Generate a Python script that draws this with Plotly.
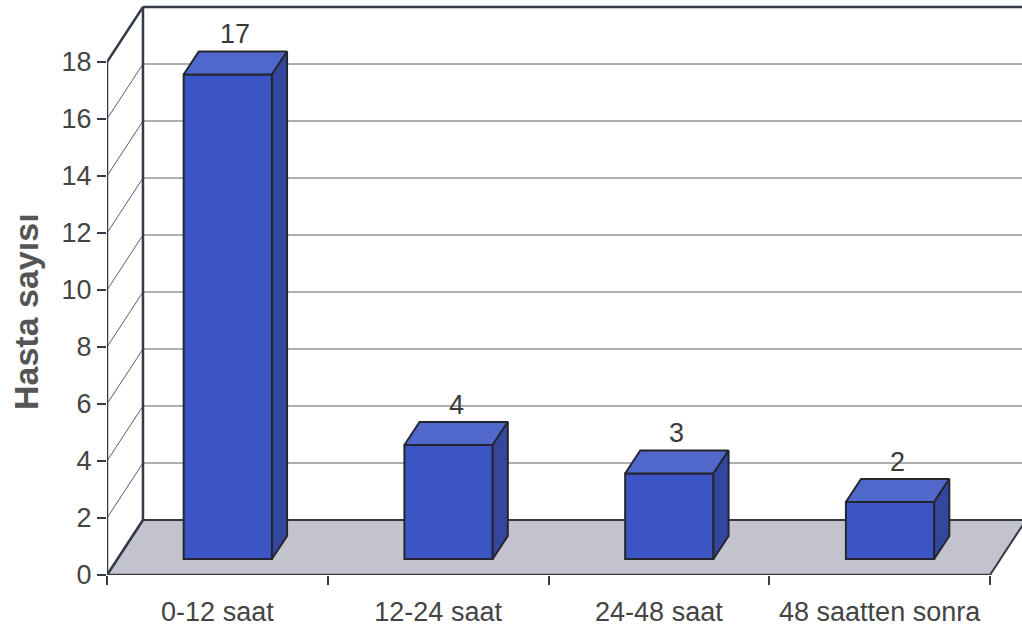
import plotly.graph_objects as go

# ---- data ----
categories = ["0-12 saat", "12-24 saat", "24-48 saat", "48 saatten sonra"]
values = [17, 4, 3, 2]
y_ticks = [0, 2, 4, 6, 8, 10, 12, 14, 16, 18]
y_title = "Hasta sayısı"

# ---- 3D geometry (in data units) ----
DX = 0.163      # depth offset along x (category units)
DY = 1.93       # depth offset along y (value units)
BAR_W = 0.40
BAR_FRONT = 0.29  # fraction of depth where bar front sits
BAR_DEPTH = 0.42  # bar depth as fraction of full depth
YMAX = 18
N = len(categories)

FRAME = "#343a46"
GRID = "#5a5f6a"
FRONT_C = "#3b55c4"
TOP_C = "#5068cc"
SIDE_C = "#34479f"
EDGE_C = "#23262e"
FLOOR_C = "#c2c3cc"
FONT = "Liberation Sans, Arial"

fig = go.Figure()

shapes = []


def poly(pts):
    return "M " + " L ".join(f"{x},{y}" for x, y in pts) + " Z"


# floor
shapes.append(dict(type="path", xref="x", yref="y", layer="below",
                   path=poly([(0, 0), (N, 0), (N + DX, DY), (DX, DY)]),
                   fillcolor=FLOOR_C, line=dict(color=FRAME, width=2)))
# gridlines on back and side walls
for v in y_ticks[1:-1]:
    shapes.append(dict(type="line", xref="x", yref="y", layer="below",
                       x0=DX, y0=v + DY, x1=N + DX + 0.5, y1=v + DY,
                       line=dict(color=GRID, width=1)))
    shapes.append(dict(type="line", xref="x", yref="y", layer="below",
                       x0=0, y0=v, x1=DX, y1=v + DY,
                       line=dict(color=GRID, width=1)))
# frame lines
frame_lines = [
    ((0, 0), (0, YMAX)),
    ((0, YMAX), (DX, YMAX + DY)),
    ((DX, DY), (DX, YMAX + DY)),
    ((DX, YMAX + DY), (N + DX + 0.5, YMAX + DY)),
    ((0, 0), (DX, DY)),
    ((0, 0), (N, 0)),
]
for (x0, y0), (x1, y1) in frame_lines:
    shapes.append(dict(type="line", xref="x", yref="y", layer="below",
                       x0=x0, y0=y0, x1=x1, y1=y1,
                       line=dict(color=FRAME, width=2.5)))

# ---- bars ----
base = BAR_FRONT * DY
xoff = BAR_FRONT * DX
bdx = BAR_DEPTH * DX
bdy = BAR_DEPTH * DY
centers = [i + 0.5 + xoff for i in range(N)]

annotations = []
for c, v in zip(centers, values):
    xl, xr = c - BAR_W / 2, c + BAR_W / 2
    top = v + base
    # top face
    fig.add_trace(go.Scatter(
        x=[xl, xr, xr + bdx, xl + bdx, xl],
        y=[top, top, top + bdy, top + bdy, top],
        fill="toself", fillcolor=TOP_C, mode="lines",
        line=dict(color=EDGE_C, width=2), hoverinfo="skip", showlegend=False))
    # side face
    fig.add_trace(go.Scatter(
        x=[xr, xr + bdx, xr + bdx, xr, xr],
        y=[base, base + bdy, top + bdy, top, base],
        fill="toself", fillcolor=SIDE_C, mode="lines",
        line=dict(color=EDGE_C, width=2), hoverinfo="skip", showlegend=False))
    annotations.append(dict(x=c + bdx / 2, y=top + bdy, xref="x", yref="y",
                            text=str(v), showarrow=False, yanchor="bottom",
                            yshift=0, font=dict(size=27, color="#3a3a3a",
                                                family=FONT)))

fig.add_trace(go.Bar(x=centers, y=values, base=base, width=BAR_W,
                     marker=dict(color=FRONT_C, line=dict(color=EDGE_C, width=2)),
                     hoverinfo="skip", showlegend=False))

# x tick marks via overlay axis
fig.add_trace(go.Scatter(x=[0, N], y=[0, 0], xaxis="x2", mode="lines",
                         line=dict(width=0), hoverinfo="skip", showlegend=False))

annotations.append(dict(x=(26 - 107) / 915, y=(575 - 312) / 575,
                        xref="paper", yref="paper", xanchor="center",
                        yanchor="middle",
                        text=f"<b>{y_title}</b>", textangle=-90, showarrow=False,
                        font=dict(size=34, color="#555555", family=FONT)))

xr_max = (1022 - 107) / 220.75
fig.update_layout(
    width=1022, height=628,
    margin=dict(l=107, r=0, t=0, b=53),
    plot_bgcolor="white", paper_bgcolor="white",
    barmode="overlay",
    shapes=shapes, annotations=annotations,
    xaxis=dict(range=[0, xr_max], tickvals=[i + 0.5 for i in range(N)],
               ticktext=categories, ticks="", showgrid=False, zeroline=False,
               showline=False, ticklabelstandoff=18,
               tickfont=dict(size=27, color="#444444", family=FONT)),
    xaxis2=dict(range=[0, xr_max], overlaying="x", anchor="y", side="bottom",
                tickvals=list(range(N + 1)), showticklabels=False,
                ticks="outside", ticklen=9, tickwidth=1.5, tickcolor=FRAME,
                showgrid=False, zeroline=False, showline=False),
    yaxis=dict(range=[0, 575 / 28.5], tickvals=y_ticks, ticks="outside",
               ticklen=9, tickwidth=2, tickcolor=FRAME, showgrid=False,
               zeroline=False, showline=False,
               tickfont=dict(size=27, color="#444444", family=FONT)),
)

fig.write_html("out.html")
